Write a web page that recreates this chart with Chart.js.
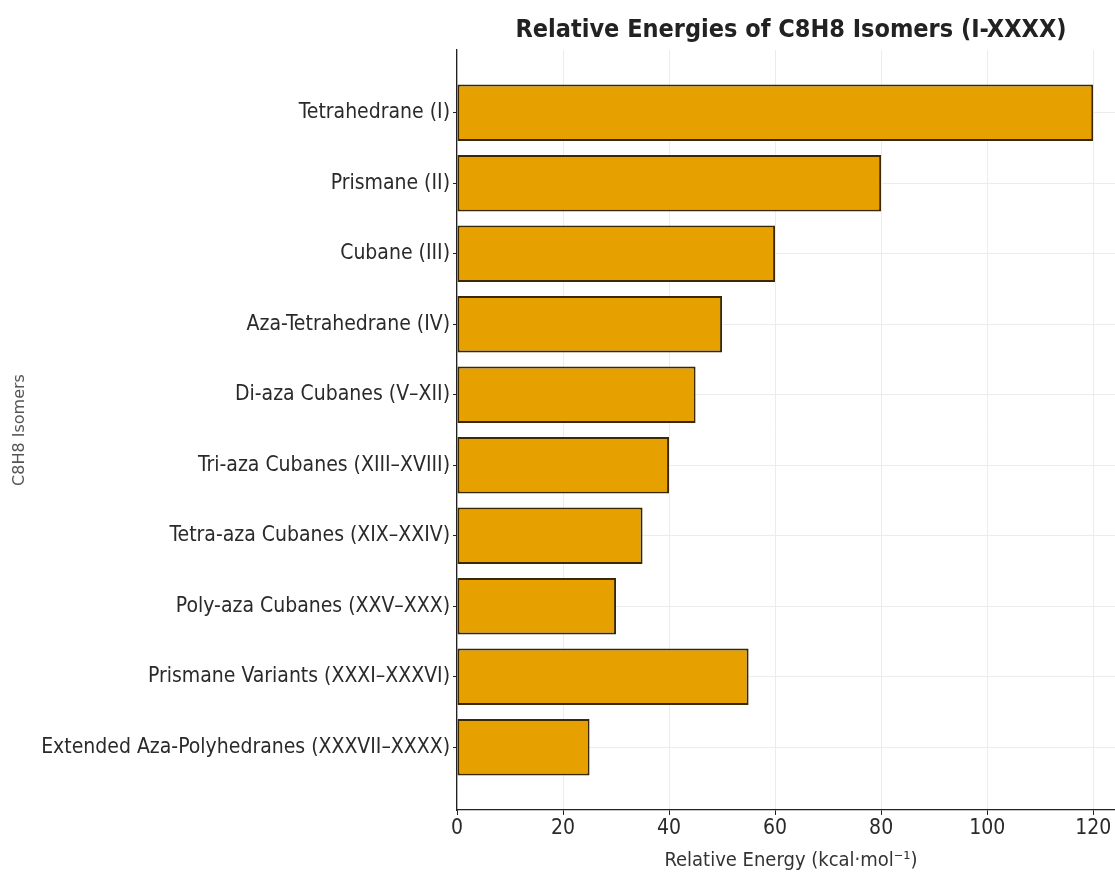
<!DOCTYPE html>
<html>
<head>
<meta charset="utf-8">
<title>Relative Energies of C8H8 Isomers</title>
<script src="https://cdn.jsdelivr.net/npm/chart.js@4/dist/chart.umd.min.js"></script>
<style>
  body { margin: 0; background: #fff; overflow: hidden; }
  #wrap { width: 1125px; height: 873px; }
</style>
</head>
<body>
<div id="wrap"><canvas id="energyChart" width="1125" height="873"></canvas></div>
<script>
const isomers = [
  "Tetrahedrane (I)",
  "Prismane (II)",
  "Cubane (III)",
  "Aza-Tetrahedrane (IV)",
  "Di-aza Cubanes (V–XII)",
  "Tri-aza Cubanes (XIII–XVIII)",
  "Tetra-aza Cubanes (XIX–XXIV)",
  "Poly-aza Cubanes (XXV–XXX)",
  "Prismane Variants (XXXI–XXXVI)",
  "Extended Aza-Polyhedranes (XXXVII–XXXX)"
];
const energies = [120, 80, 60, 50, 45, 40, 35, 30, 55, 25];
const energyTicks = [0, 20, 40, 60, 80, 100, 120];

const fontFamily = "'DejaVu Sans Condensed', 'DejaVu Sans', sans-serif";
const textColor = "#2a2a2a";

// bars sit at integer positions on a linear y scale, like matplotlib's barh
const points = energies.map((e, i) => ({ x: e, y: i }));

new Chart(document.getElementById("energyChart").getContext("2d"), {
  type: "bar",
  data: {
    datasets: [
      {
        label: "Relative Energy",
        data: points,
        backgroundColor: "#e6a000",
        borderColor: "#3a2800",
        borderWidth: 2,
        borderSkipped: false,
        barPercentage: 0.8,
        categoryPercentage: 1.0,
      },
    ],
  },
  options: {
    indexAxis: "y",
    responsive: false,
    animation: false,
    layout: { padding: 0 },
    plugins: {
      legend: { display: false },
      tooltip: { enabled: false },
      title: {
        display: true,
        fullSize: false,
        text: "Relative Energies of C8H8 Isomers (I-XXXX)",
        color: "#222",
        font: { family: fontFamily, size: 25, weight: "bold" },
        padding: { top: 15, bottom: 5 },
      },
    },
    scales: {
      y: {
        type: "linear",
        reverse: true,
        offset: false,
        min: -0.89,
        max: 9.89,
        afterBuildTicks: (scale) => {
          scale.ticks = isomers.map((_, i) => ({ value: i }));
        },
        afterFit: (scale) => {
          scale.width = 457;
        },
        ticks: {
          color: textColor,
          font: { family: fontFamily, size: 21 },
          padding: 3,
          callback: (v) => isomers[v],
        },
        grid: {
          offset: false,
          color: "#ececec",
          lineWidth: 1,
          tickColor: "#222",
          tickLength: 4,
        },
        border: { display: true, color: "#222", width: 1.3 },
        title: {
          display: true,
          text: "C8H8 Isomers",
          color: "#555",
          font: { family: "'DejaVu Sans', sans-serif", size: 16 },
          padding: { top: 10, bottom: 0 },
        },
      },
      x: {
        type: "linear",
        min: 0,
        max: 126,
        afterBuildTicks: (scale) => {
          scale.ticks = energyTicks.map((v) => ({ value: v }));
        },
        afterFit: (scale) => {
          scale.height = 63;
        },
        ticks: {
          color: textColor,
          font: { family: fontFamily, size: 21 },
          padding: 1,
        },
        grid: {
          color: "#ececec",
          lineWidth: 1,
          tickColor: "#222",
          tickLength: 5,
        },
        border: { display: true, color: "#222", width: 1.3 },
        title: {
          display: true,
          text: "Relative Energy (kcal·mol⁻¹)",
          color: "#333",
          font: { family: fontFamily, size: 20 },
          padding: { top: 0, bottom: 0 },
        },
      },
    },
  },
});
</script>
</body>
</html>
